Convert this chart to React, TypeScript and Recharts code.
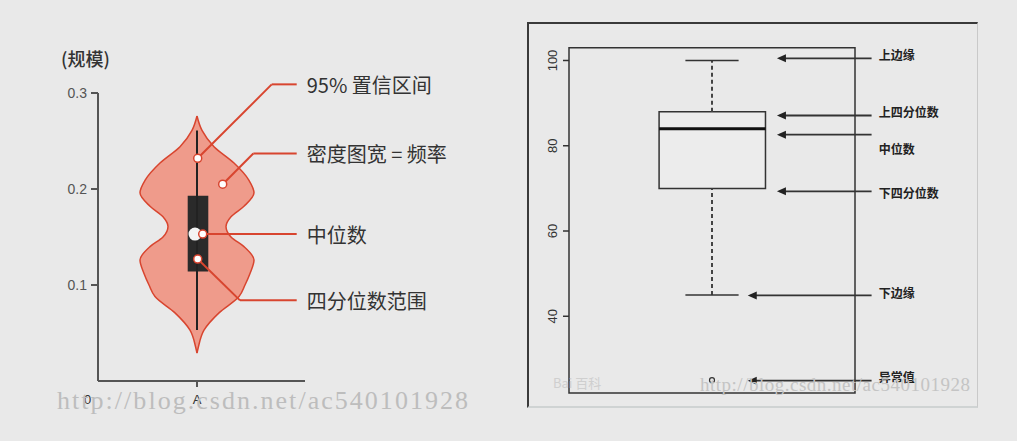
import React from 'react';
import {
  ComposedChart,
  Area,
  Scatter,
  XAxis,
  YAxis,
  ReferenceArea,
  ReferenceLine,
  ReferenceDot,
} from 'recharts';

// violin: value levels and half-width of the density at each level
const violinLevels = [0.029, 0.036, 0.053, 0.071, 0.088, 0.1, 0.112, 0.126, 0.14, 0.15, 0.161, 0.171, 0.182, 0.196, 0.209, 0.227, 0.244, 0.261, 0.276];
const violinWidths = [0, 0.015, 0.07, 0.22, 0.42, 0.48, 0.53, 0.57, 0.47, 0.34, 0.29, 0.34, 0.47, 0.57, 0.52, 0.37, 0.17, 0.05, 0];
const violinBox = [0.114, 0.153, 0.193]; // q1, median, q3
const violinWhisker = [0.053, 0.261];
const violinTicks = [0.1, 0.2, 0.3];
const violinCategory = 'A';

// callouts on the violin
const noteLabels = ['95% 置信区间', '密度图宽 = 频率', '中位数', '四分位数范围'];
const noteDotX = [0.007, 0.257, 0.057, 0.007];
const noteDotY = [0.232, 0.205, 0.153, 0.127];
const noteBendX = [0.747, 0.563, 0.057, 0.43];
const noteBendY = [0.309, 0.237, 0.153, 0.084];
const noteEndX = 0.997;

// box plot
const boxStats = [45, 70, 84, 88, 100]; // lower whisker, q1, median, q3, upper whisker
const boxOutliers = [25];
const boxTicks = [40, 60, 80, 100];
const boxLabels = ['上边缘', '上四分位数', '中位数', '下四分位数', '下边缘', '异常值'];
const boxArrowY = [100.5, 87.1, 82.6, 69.3, 44.9, 24.9];
const boxArrowTip = [0.727, 0.727, 0.727, 0.727, 0.625, 0.625];
const boxLabelY = [101.3, 88, 79.3, 69, 45.5, 25.8];

const violinData = violinLevels.map((v, i) => ({ v, span: [-violinWidths[i], violinWidths[i]] }));
const outlierData = boxOutliers.map((y) => ({ x: 0.5, y }));

const RED = '#d8452f';
const CJK = '"Noto Sans CJK SC", "Noto Sans", sans-serif';

function RotatedTick(props: any) {
  const { x, y, payload } = props;
  return (
    <text
      x={x}
      y={y}
      transform={`rotate(-90, ${x}, ${y})`}
      textAnchor="middle"
      fontSize={13}
      fontFamily="Liberation Sans, Arial, sans-serif"
      fill="#333"
    >
      {payload.value}
    </text>
  );
}

function ViolinChart() {
  return (
    <ComposedChart
      layout="vertical"
      width={520}
      height={441}
      data={violinData}
      margin={{ top: 93, right: 215, bottom: 30, left: 58 }}
    >
      <XAxis
        type="number"
        domain={[-0.99, 1.08]}
        allowDataOverflow
        ticks={[0]}
        tickFormatter={() => violinCategory}
        height={30}
        tickSize={6}
        tickMargin={8}
        axisLine={{ stroke: '#555', strokeWidth: 2 }}
        tickLine={{ stroke: '#555', strokeWidth: 2 }}
        tick={{ fontSize: 13, fill: '#333', fontFamily: 'Liberation Sans, sans-serif' }}
      />
      <YAxis
        type="number"
        dataKey="v"
        reversed
        domain={[0, 0.3]}
        allowDataOverflow
        ticks={violinTicks}
        tickFormatter={(v) => Number(v).toFixed(1)}
        width={40}
        tickSize={7}
        tickMargin={4}
        axisLine={{ stroke: '#555', strokeWidth: 2 }}
        tickLine={{ stroke: '#555', strokeWidth: 2 }}
        tick={{ fontSize: 14, fill: '#555', fontFamily: 'Liberation Sans, sans-serif' }}
      />
      <Area
        dataKey="span"
        type="monotone"
        fill="#ef9b8b"
        fillOpacity={1}
        stroke={RED}
        strokeWidth={1.5}
        dot={false}
        activeDot={false}
        isAnimationActive={false}
      />
      <ReferenceLine
        segment={[{ x: 0, y: violinWhisker[0] }, { x: 0, y: violinWhisker[1] }]}
        stroke="#222"
        strokeWidth={2}
      />
      <ReferenceArea x1={-0.093} x2={0.113} y1={violinBox[0]} y2={violinBox[2]} fill="#2a2a2a" fillOpacity={1} stroke="none" />
      <ReferenceDot x={-0.02} y={violinBox[1]} r={6.5} fill="#f4f4f4" stroke="none" />
      {noteLabels.map((label, i) => (
        <React.Fragment key={label}>
          {noteBendX[i] !== noteDotX[i] && (
            <ReferenceLine
              ifOverflow="visible"
              segment={[{ x: noteDotX[i], y: noteDotY[i] }, { x: noteBendX[i], y: noteBendY[i] }]}
              stroke={RED}
              strokeWidth={2}
            />
          )}
          <ReferenceLine
            ifOverflow="visible"
            segment={[{ x: noteBendX[i], y: noteBendY[i] }, { x: noteEndX, y: noteBendY[i] }]}
            stroke={RED}
            strokeWidth={2}
          />
          <ReferenceDot x={noteDotX[i]} y={noteDotY[i]} r={4} fill="#fff" stroke={RED} strokeWidth={1.5} />
          <ReferenceDot
            x={noteEndX}
            y={noteBendY[i]}
            ifOverflow="visible"
            shape={(p: any) => (
              <text x={p.cx + 10} y={p.cy} dominantBaseline="central" fontSize={20} fill="#333" fontFamily={CJK}>
                {label}
              </text>
            )}
          />
        </React.Fragment>
      ))}
    </ComposedChart>
  );
}

function BoxChart() {
  const [lo, q1, med, q3, hi] = boxStats;
  return (
    <ComposedChart width={450} height={384} data={outlierData} margin={{ top: 24.7, right: 122, bottom: 14, left: 12 }}>
      <XAxis type="number" dataKey="x" domain={[0, 1]} allowDataOverflow hide />
      <YAxis
        type="number"
        dataKey="y"
        domain={[22, 103]}
        allowDataOverflow
        ticks={boxTicks}
        width={30}
        tickSize={6}
        tickMargin={6}
        axisLine={false}
        tickLine={{ stroke: '#333', strokeWidth: 1.5 }}
        tick={<RotatedTick />}
      />
      <ReferenceArea x1={0} x2={1} y1={22} y2={103} fill="none" stroke="#333" strokeWidth={1.5} />
      <ReferenceLine segment={[{ x: 0.5, y: q3 }, { x: 0.5, y: hi }]} stroke="#444" strokeWidth={2} strokeDasharray="4 3" />
      <ReferenceLine segment={[{ x: 0.5, y: lo }, { x: 0.5, y: q1 }]} stroke="#444" strokeWidth={2} strokeDasharray="4 3" />
      <ReferenceLine segment={[{ x: 0.407, y: hi }, { x: 0.593, y: hi }]} stroke="#333" strokeWidth={1.5} />
      <ReferenceLine segment={[{ x: 0.407, y: lo }, { x: 0.593, y: lo }]} stroke="#333" strokeWidth={1.5} />
      <ReferenceArea x1={0.315} x2={0.687} y1={q1} y2={q3} fill="#ececec" fillOpacity={1} stroke="#333" strokeWidth={1.5} />
      <ReferenceLine segment={[{ x: 0.315, y: med }, { x: 0.687, y: med }]} stroke="#111" strokeWidth={3} />
      <Scatter
        data={outlierData}
        isAnimationActive={false}
        shape={(p: any) => <circle cx={p.cx} cy={p.cy} r={2.5} fill="none" stroke="#333" strokeWidth={1.2} />}
      />
      {boxLabels.map((label, i) => (
        <React.Fragment key={label}>
          <ReferenceLine
            ifOverflow="visible"
            segment={[{ x: boxArrowTip[i] + 0.01, y: boxArrowY[i] }, { x: 1.058, y: boxArrowY[i] }]}
            stroke="#333"
            strokeWidth={1.8}
          />
          <ReferenceDot
            x={boxArrowTip[i]}
            y={boxArrowY[i]}
            ifOverflow="visible"
            shape={(p: any) => (
              <polygon points={`${p.cx},${p.cy} ${p.cx + 9},${p.cy - 4} ${p.cx + 9},${p.cy + 4}`} fill="#222" />
            )}
          />
          <ReferenceDot
            x={1.083}
            y={boxLabelY[i]}
            ifOverflow="visible"
            shape={(p: any) => (
              <text x={p.cx} y={p.cy} dominantBaseline="central" fontSize={12} fontWeight={700} fill="#222" fontFamily={CJK}>
                {label}
              </text>
            )}
          />
        </React.Fragment>
      ))}
    </ComposedChart>
  );
}

export default function App() {
  return (
    <div style={{ position: 'relative', width: 1017, height: 441, background: '#e9e9e9', overflow: 'hidden' }}>
      <style>{'html,body{margin:0;padding:0;background:#e9e9e9}'}</style>
      <div style={{ position: 'absolute', left: 0, top: 0 }}>
        <ViolinChart />
      </div>
      <div
        style={{
          position: 'absolute',
          left: 61,
          top: 45,
          fontSize: 18,
          fontWeight: 500,
          color: '#333',
          fontFamily: CJK,
          lineHeight: '26px',
        }}
      >
        (规模)
      </div>
      <div
        style={{
          position: 'absolute',
          left: 84,
          top: 392,
          fontSize: 13,
          color: '#333',
          fontFamily: 'Liberation Sans, sans-serif',
          lineHeight: '16px',
        }}
      >
        0
      </div>
      <div
        style={{
          position: 'absolute',
          left: 527,
          top: 22,
          width: 451,
          height: 386,
          boxSizing: 'border-box',
          borderTop: '2px solid #3a3a3a',
          borderLeft: '2px solid #3a3a3a',
          borderRight: '1px solid #c9c9c9',
          borderBottom: '2px solid #cfd3d3',
        }}
      />
      <div style={{ position: 'absolute', left: 527, top: 23 }}>
        <BoxChart />
      </div>
      <svg width={1017} height={441} style={{ position: 'absolute', left: 0, top: 0, pointerEvents: 'none' }}>
        <text x={57} y={409} fontSize={26} fill="#bdbdbd" fontFamily="Liberation Serif, serif" textLength={411} lengthAdjust="spacing">
          http://blog.csdn.net/ac540101928
        </text>
        <text x={700} y={391} fontSize={19} fill="#c4c4c4" fontFamily="Liberation Serif, serif" textLength={270} lengthAdjust="spacing">
          http://blog.csdn.net/ac540101928
        </text>
        <text x={553} y={388} fontSize={13} fill="#cfcfcf" fontFamily={CJK}>
          Bai 百科
        </text>
      </svg>
    </div>
  );
}
